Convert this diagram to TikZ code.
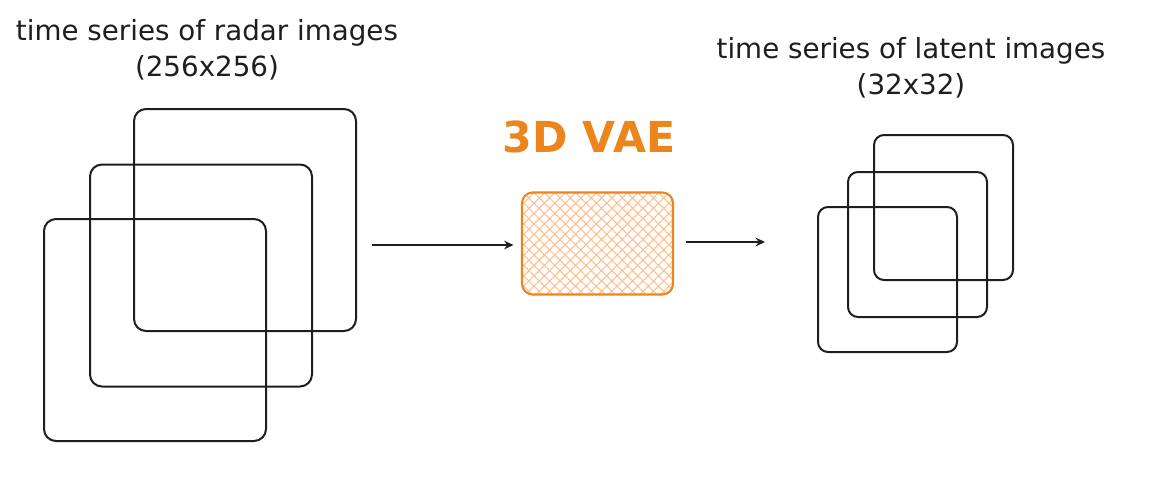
\documentclass[tikz,border=0pt]{standalone}
\usepackage{fontspec}
\setmainfont{DejaVu Sans}
\usetikzlibrary{positioning}
\usetikzlibrary{arrows.meta,patterns.meta}
\definecolor{vaeorange}{RGB}{236,134,28}
\definecolor{hatchorange}{RGB}{255,190,140}
\definecolor{inkgray}{RGB}{30,30,30}
\def\pxl{0.75pt}

\begin{document}
\begin{tikzpicture}[x=0.75pt,y=-0.75pt,
  frame/.style={draw=inkgray,line width=1.5pt,rounded corners=9pt,inner sep=0pt},
  vaebox/.style={draw=vaeorange,line width=1.6pt,rounded corners=8pt,inner sep=0pt,
    pattern={Hatch[angle=45,distance=5.5pt,line width=0.8pt]},pattern color=hatchorange,
    minimum width=151*\pxl,minimum height=102*\pxl},
  caption/.style={align=center,font=\fontsize{20.8}{27}\selectfont,text=inkgray},
  flow/.style={draw=inkgray,line width=1.5pt,-{Stealth[length=7pt,width=6.5pt]}}]
\useasboundingbox (0,0) rectangle (1169,478);

% radar images, back to front
\foreach \n/\x/\y in {1/245/220,2/201/275.5,3/155/330} {
  \node[frame,minimum width=222*\pxl,minimum height=222*\pxl] (radar\n) at (\x,\y) {};
}
% latent images, back to front
\foreach \n/\x/\y in {1/943.5/207.5,2/917.5/244.5,3/887.5/279.5} {
  \node[frame,minimum width=139*\pxl,minimum height=145*\pxl,rounded corners=7.5pt] (latent\n) at (\x,\y) {};
}

\node[caption] (radarlabel) at (207,50) {time series of radar images\\(256x256)};
\node[caption] (latentlabel) at (911,67.5) {time series of latent images\\(32x32)};

\node[vaebox] (vae) at (597.5,243.5) {};
\node[text=vaeorange,font=\bfseries\fontsize{32}{36}\selectfont] (vaelabel) at (589,137) {3D VAE};

\coordinate (radarout) at (372,245);
\coordinate (latentin) at (765,242);
\draw[flow,shorten >=8*\pxl] (radarout) -- (vae.west |- radarout);
\draw[flow,shorten <=12*\pxl] (vae.east |- latentin) -- (latentin);
\end{tikzpicture}
\end{document}
